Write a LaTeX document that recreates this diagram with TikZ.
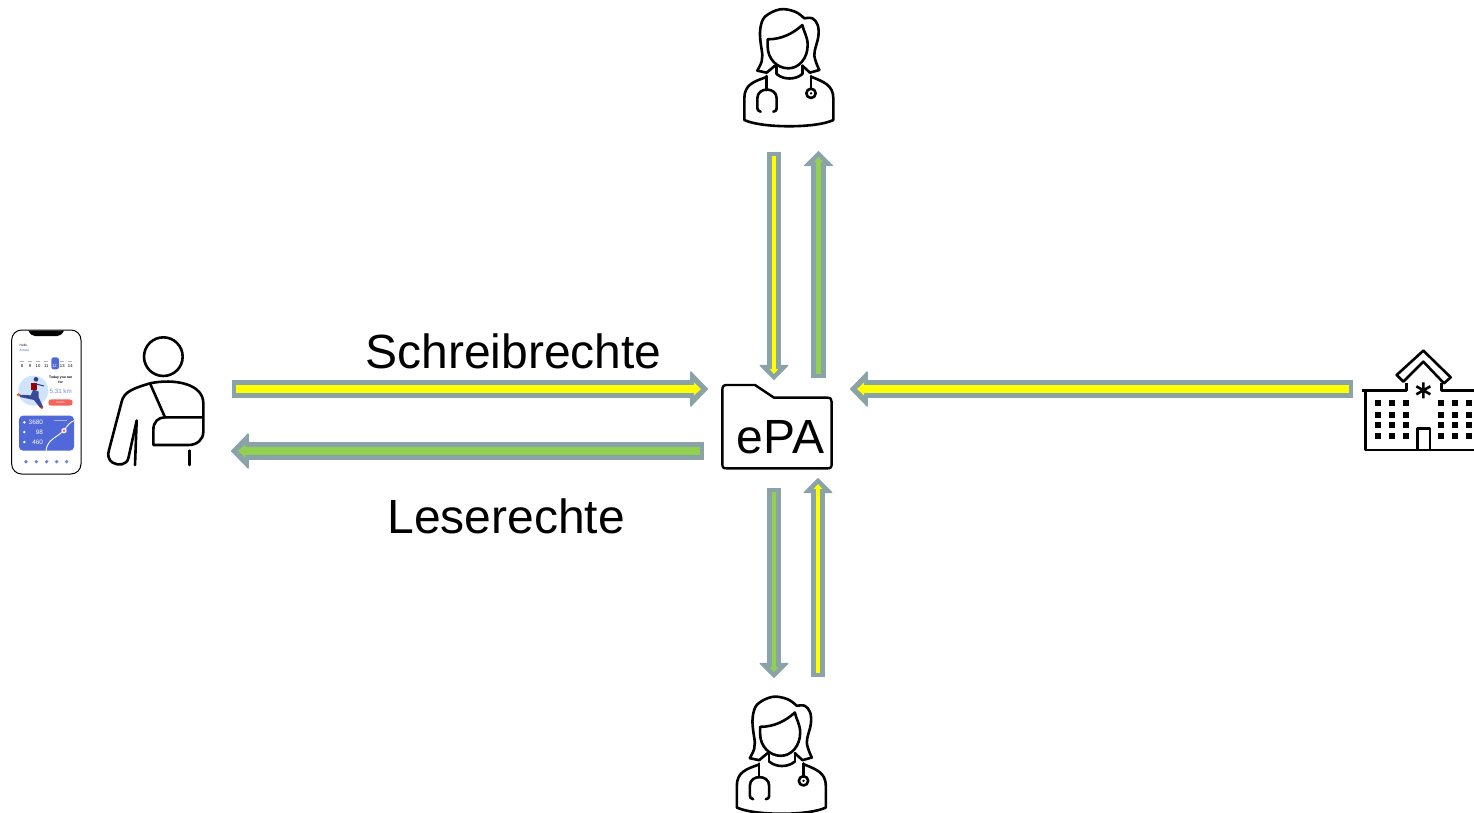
\documentclass[tikz,border=0pt]{standalone}
\usepackage{fontspec}
\setmainfont{Liberation Sans}
\usetikzlibrary{arrows.meta}
\definecolor{arrowgrey}{HTML}{8AA3A8}
\definecolor{wyellow}{HTML}{FFFF00}
\definecolor{rgreen}{HTML}{92D050}
\definecolor{appblue}{HTML}{5068D8}
\definecolor{appred}{HTML}{F5635A}
\definecolor{paleblue}{HTML}{CFE4FB}
\tikzset{
  icon/.style={draw=black,line width=1.3pt,line cap=round,line join=round},
  label/.style={font=\fontsize{24}{28}\selectfont,anchor=base west,inner sep=0pt},
  zoomed/.style={x=0.16667pt,y=-0.16667pt},
  tiny/.style={inner sep=0pt,font=\fontsize{#1}{#1}\selectfont},
  tiny/.default=1.6,
  hshaft/.style={arrowgrey,line width=8.8pt,-{Triangle[round,length=9pt,width=18.5pt,line width=.6pt]}},
  vshaft/.style={arrowgrey,line width=7.2pt,-{Triangle[round,length=7.6pt,width=15pt,line width=.4pt]}},
  hinner/.style={#1,line width=3.6pt,-{Triangle[length=3.4pt,width=6.5pt]}},
  vinner/.style={#1,line width=2.1pt,-{Triangle[length=2.4pt,width=4pt]}},
}
\newcommand{\hfat}[3]{\draw[hshaft] (#1) -- (#2);\draw[hinner=#3,shorten >=3.6pt,shorten <=2pt] (#1) -- (#2);}
\newcommand{\vfat}[3]{\draw[vshaft] (#1) -- (#2);\draw[vinner=#3,shorten >=3pt,shorten <=2pt] (#1) -- (#2);}
\newcommand{\doctoricon}{%
  \draw[icon]
    plot[smooth,tension=.6] coordinates {(97,212)(110,185)(112,165)(106,120)(106,85)(120,50)(165,28)(210,35)(238,55)}
    plot[smooth,tension=.6] coordinates {(238,55)(262,55)(278,75)(280,110)(268,165)(283,210)};
  \draw[icon] (97,212) -- (125,218) -- (150,197);
  \draw[icon] (283,210) -- (255,218) -- (232,197);
  \draw[icon] (128,118) .. controls (170,118) and (205,100) .. (232,75)
    .. controls (236,95) and (248,110) .. (248,135)
    .. controls (248,175) and (222,205) .. (190,205)
    .. controls (155,205) and (128,175) .. (128,140) -- cycle;
  \draw[icon] (155,197) -- (155,222);
  \draw[icon] (232,197) -- (232,222);
  \draw[icon] (155,222) .. controls (175,240) and (212,240) .. (232,222);
  \draw[icon] (122,232) .. controls (85,245) and (58,255) .. (58,295) -- (58,360)
    .. controls (110,385) and (275,385) .. (325,360) -- (325,295)
    .. controls (325,255) and (295,245) .. (258,230);
  \draw[icon] (125,228) -- (125,270);
  \draw[icon] (107,335) .. controls (98,335) and (97,330) .. (97,315) -- (97,295)
    .. controls (97,260) and (155,260) .. (155,295) -- (155,320)
    .. controls (155,332) and (152,335) .. (145,335);
  \draw[icon] (258,228) -- (258,267);
  \draw[icon] (258,280) circle (14);
  \fill (258,280) circle (4);
}
\begin{document}
\begin{tikzpicture}[x=0.5pt,y=-0.5pt]
\useasboundingbox (0,0) rectangle (1474,813);
\fill[white] (0,0) rectangle (1474,813);

% arrow end points
\coordinate (wpS) at (232,389); \coordinate (wpE) at (708,389);
\coordinate (rpS) at (704,451); \coordinate (rpE) at (231,451);
\coordinate (hS) at (1353,389); \coordinate (hE) at (850,389);
\coordinate (t1S) at (774,152); \coordinate (t1E) at (774,380);
\coordinate (t2S) at (818.5,378); \coordinate (t2E) at (818.5,151);
\coordinate (b1S) at (774,488); \coordinate (b1E) at (774,678);
\coordinate (b2S) at (818,677); \coordinate (b2E) at (818,478);

\hfat{wpS}{wpE}{wyellow}
\hfat{rpS}{rpE}{rgreen}
\hfat{hS}{hE}{wyellow}
\vfat{t1S}{t1E}{wyellow}
\vfat{t2S}{t2E}{rgreen}
\vfat{b1S}{b1E}{rgreen}
\vfat{b2S}{b2E}{wyellow}

% labels
\node[label] (schreib) at (365,368) {Schreibrechte};
\node[label] (lese) at (387,533) {Leserechte};

% ePA folder
\begin{scope}[shift={(690,360)},zoomed]
  \draw[icon,line width=1.2pt] (97,90) .. controls (97,80) and (100,75) .. (110,75) -- (195,75)
    -- (252,113) -- (412,113) .. controls (422,113) and (425,118) .. (425,126) -- (425,312)
    .. controls (425,322) and (422,325) .. (412,325) -- (110,325)
    .. controls (100,325) and (97,322) .. (97,312) -- cycle;
\end{scope}
\node[label] (epa) at (736.5,453.5) {ePA};

% doctors
\begin{scope}[shift={(725,0)},zoomed]\doctoricon\end{scope}
\begin{scope}[shift={(717.5,687.5)},zoomed]\doctoricon\end{scope}

% patient
\begin{scope}[shift={(0,320)},zoomed]
  \draw[icon] (490,110) circle (58);
  \draw[icon] (410,302) -- (385,415) .. controls (380,435) and (355,438) .. (338,428)
    .. controls (325,420) and (322,405) .. (327,390) -- (365,245)
    .. controls (372,215) and (400,205) .. (450,190)
    .. controls (520,175) and (610,190) .. (610,250) -- (610,335)
    .. controls (610,360) and (590,375) .. (565,375) -- (460,375) -- (460,330)
    .. controls (460,305) and (475,292) .. (495,292) -- (610,292);
  \draw[icon] (450,190) -- (495,292);
  \draw[icon] (410,302) -- (405,435);
  \draw[icon] (568,392) -- (568,435);
\end{scope}

% hospital
\begin{scope}[shift={(1344,340)},zoomed]
  \draw[icon,line cap=butt] (390,152) -- (292,152) -- (292,128);
  \draw[icon,line cap=butt] (55,152) -- (187,152) -- (187,128);
  \draw[icon,line cap=butt] (65,152) -- (65,330) -- (390,330);
  \draw[icon] (238,32) -- (320,112) -- (300,130) -- (238,65) -- (178,125) -- (158,105) -- cycle;
  \draw[icon,line cap=butt] (220,330) -- (220,265) -- (258,265) -- (258,330);
  \draw[black,line width=1.3pt] (238,127) -- (238,175) (217,139) -- (259,163) (217,163) -- (259,139);
  \foreach \wx in {103,145,185,292,333,375}
    \foreach \wy in {190,224,255,288}
      \fill (\wx-9,\wy-9) rectangle (\wx+9,\wy+9);
\end{scope}

% phone
\begin{scope}[shift={(0,320)},zoomed]
  \draw[black,line width=.5pt,fill=white,rounded corners=5pt] (35,30) rectangle (243,462);
  \fill[black] (85,32) -- (192,32) .. controls (186,42) and (182,48) .. (172,48) -- (105,48)
    .. controls (95,48) and (91,42) .. (85,32) -- cycle;
  \node[tiny,anchor=west] (hello) at (58,78) {Hello,};
  \node[tiny,anchor=west,text=appblue] (amara) at (58,92) {Amara};
  \fill[appblue,rounded corners=1.2pt] (154,112) rectangle (177,148);
  \foreach \dx/\dn/\dc in {66/8/black,90/9/black,114/10/black,139/11/black,163/12/white,187/13/black,211/14/black}
    \node[tiny=2.1,text=\dc] at (\dx,137) {\dn};
  \foreach \dx in {66,90,114,139,187,211} \fill[black!30] (\dx-6,122) rectangle (\dx+6,125);
  \fill[paleblue] (100,212) circle (45);
  \fill[orange!80!red] (55,224) circle (5) (125,263) circle (5);
  \fill[appblue!70!black] (58,224) -- (92,226) -- (100,208) -- (116,215) -- (116,232) -- (130,262) -- (120,263) -- (102,240) -- (60,231) -- cycle;
  \fill[red!60!black] (94,190) rectangle (110,210);
  \fill[appblue!60!black] (108,178) circle (7);
  \draw[appblue!60!black,line width=.5pt] (108,192) -- (132,198);
  \node[tiny,font=\fontsize{1.7}{2}\bfseries\selectfont] (ran1) at (182,174) {Today you ran};
  \node[tiny,font=\fontsize{1.7}{2}\bfseries\selectfont] (ran2) at (182,187) {for};
  \node[tiny=3.1,text=appblue!80] (km) at (182,215) {5.31 km};
  \fill[appred,rounded corners=1.5pt] (145,238) rectangle (218,257);
  \node[tiny=1.4,text=white] (details) at (182,247.5) {Details};
  \fill[appblue,rounded corners=2pt] (57,287) rectangle (222,392);
  \node[text=white,anchor=east,inner sep=0pt,font=\fontsize{3.2}{3.2}\selectfont] (steps) at (130,307) {3680};
  \node[text=white,anchor=east,inner sep=0pt,font=\fontsize{3.2}{3.2}\selectfont] (heart) at (130,336) {98};
  \node[text=white,anchor=east,inner sep=0pt,font=\fontsize{3.2}{3.2}\selectfont] (cal) at (130,366) {460};
  \foreach \iy in {307,336,366} \fill[white] (73,\iy) circle (4);
  \fill[white,opacity=.5] (162,299) rectangle (200,302);
  \draw[white,line width=.45pt] (138,392) .. controls (142,360) and (165,355) .. (192,332)
    .. controls (200,320) and (210,305) .. (222,302);
  \fill[white] (192,332) circle (8);
  \fill[appred] (192,332) circle (4.5);
  \foreach \ix in {78,109,140,170,200} \fill[appblue!85] (\ix,425) circle (5.5);
\end{scope}
\end{tikzpicture}
\end{document}
